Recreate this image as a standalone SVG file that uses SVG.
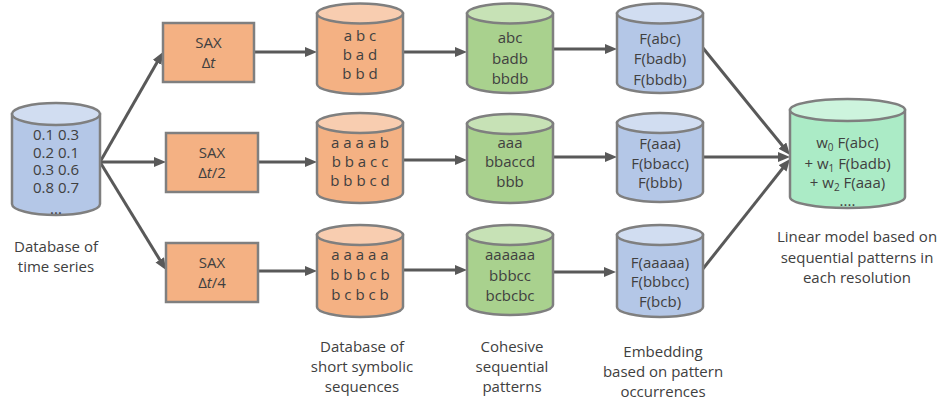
<svg xmlns="http://www.w3.org/2000/svg" width="946" height="403" viewBox="0 0 946 403">
  <style>
    text { font-family: "Open Sans", "Noto Sans", "DejaVu Sans", sans-serif; font-size: 15px; fill: #404040; text-anchor: middle; }
    .edge { stroke: #595959; stroke-width: 3; fill: none; marker-end: url(#arrow); }
    .box { fill: #f4b183; stroke: #7f7f7f; stroke-width: 2.5; }
    .cyl { stroke: #7f7f7f; stroke-width: 2.5; }
    .orange .body { fill: #f4b183; } .orange .lid { fill: #f8cdb0; }
    .green .body { fill: #a9d18e; } .green .lid { fill: #c7e2b6; }
    .blue .body { fill: #b4c7e7; } .blue .lid { fill: #d1ddf1; }
    .mint .body { fill: #abebc6; } .mint .lid { fill: #cdf4dd; }
    .sub { font-size: 10px; }
  </style>
  <defs>
    <marker id="arrow" markerUnits="userSpaceOnUse" markerWidth="13" markerHeight="11" refX="6" refY="5" orient="auto">
      <path d="M0,0 L12,5 L0,10 Z" fill="#595959"/>
    </marker>
  </defs>

  <!-- connectors -->
  <g id="connectors">
    <line class="edge" x1="100" y1="162" x2="160" y2="57.2"/>
    <line class="edge" x1="100" y1="162" x2="160" y2="162"/>
    <line class="edge" x1="100" y1="162" x2="162.9" y2="264.9"/>
    <line class="edge" x1="254" y1="52" x2="311" y2="52"/>
    <line class="edge" x1="258" y1="162" x2="311" y2="162"/>
    <line class="edge" x1="258" y1="271" x2="311" y2="271"/>
    <line class="edge" x1="403" y1="52" x2="461" y2="52"/>
    <line class="edge" x1="403" y1="160" x2="461" y2="160"/>
    <line class="edge" x1="403" y1="270" x2="461" y2="270"/>
    <line class="edge" x1="553" y1="49" x2="611" y2="49"/>
    <line class="edge" x1="553" y1="157" x2="611" y2="157"/>
    <line class="edge" x1="553" y1="272" x2="610" y2="272"/>
    <line class="edge" x1="703" y1="48" x2="786.2" y2="150.3"/>
    <line class="edge" x1="704" y1="157" x2="784" y2="157"/>
    <line class="edge" x1="702" y1="270" x2="786.3" y2="163.7"/>
  </g>

  <!-- source database -->
  <g id="timeseries-db" class="blue">
    <path class="cyl body" d="M12,114 V204 A44,11 0 0 0 100,204 V114 Z"/>
    <ellipse class="cyl lid" cx="56" cy="114" rx="44" ry="11"/>
    <text x="56" y="140">0.1 0.3</text>
    <text x="56" y="158">0.2 0.1</text>
    <text x="56" y="175">0.3 0.6</text>
    <text x="56" y="193">0.8 0.7</text>
    <text x="56" y="214">...</text>
    <text x="56" y="252">Database of</text>
    <text x="56" y="272">time series</text>
  </g>

  <!-- SAX transforms -->
  <g id="sax-1">
    <rect class="box" x="163" y="23" width="91" height="59"/>
    <text x="208.5" y="48">SAX</text>
    <text x="208.5" y="68">Δ<tspan font-style="italic">t</tspan></text>
  </g>
  <g id="sax-2">
    <rect class="box" x="166" y="133" width="92" height="59"/>
    <text x="212" y="158">SAX</text>
    <text x="212" y="178">Δ<tspan font-style="italic">t</tspan>/2</text>
  </g>
  <g id="sax-4">
    <rect class="box" x="166" y="243" width="92" height="59"/>
    <text x="212" y="268">SAX</text>
    <text x="212" y="288">Δ<tspan font-style="italic">t</tspan>/4</text>
  </g>

  <!-- symbolic sequence databases -->
  <g id="symbolic-1" class="orange">
    <path class="cyl body" d="M317,13.5 V84 A43,10 0 0 0 403,84 V13.5 Z"/>
    <ellipse class="cyl lid" cx="360" cy="13.5" rx="43" ry="10"/>
    <text x="360" y="41">a b c</text>
    <text x="360" y="60">b a d</text>
    <text x="360" y="79">b b d</text>
  </g>
  <g id="symbolic-2" class="orange">
    <path class="cyl body" d="M317,123 V193 A43,10 0 0 0 403,193 V123 Z"/>
    <ellipse class="cyl lid" cx="360" cy="123" rx="43" ry="10"/>
    <text x="360" y="148">a a a a b</text>
    <text x="360" y="167">b b a c c</text>
    <text x="360" y="186">b b b c d</text>
  </g>
  <g id="symbolic-4" class="orange">
    <path class="cyl body" d="M317,235 V307 A43,10 0 0 0 403,307 V235 Z"/>
    <ellipse class="cyl lid" cx="360" cy="235" rx="43" ry="10"/>
    <text x="360" y="260">a a a a a</text>
    <text x="360" y="280">b b b c b</text>
    <text x="360" y="300">b c b c b</text>
  </g>

  <!-- cohesive patterns -->
  <g id="patterns-1" class="green">
    <path class="cyl body" d="M467,13.5 V83 A43,10 0 0 0 553,83 V13.5 Z"/>
    <ellipse class="cyl lid" cx="510" cy="13.5" rx="43" ry="10"/>
    <text x="510" y="43">abc</text>
    <text x="510" y="64">badb</text>
    <text x="510" y="84">bbdb</text>
  </g>
  <g id="patterns-2" class="green">
    <path class="cyl body" d="M467,124 V193 A43,10 0 0 0 553,193 V124 Z"/>
    <ellipse class="cyl lid" cx="510" cy="124" rx="43" ry="10"/>
    <text x="510" y="148">aaa</text>
    <text x="510" y="167">bbaccd</text>
    <text x="510" y="187">bbb</text>
  </g>
  <g id="patterns-4" class="green">
    <path class="cyl body" d="M467,235 V305 A43,10 0 0 0 553,305 V235 Z"/>
    <ellipse class="cyl lid" cx="510" cy="235" rx="43" ry="10"/>
    <text x="510" y="260">aaaaaa</text>
    <text x="510" y="281">bbbcc</text>
    <text x="510" y="301">bcbcbc</text>
  </g>

  <!-- embeddings -->
  <g id="embedding-1" class="blue">
    <path class="cyl body" d="M617,13.5 V83 A43,10 0 0 0 703,83 V13.5 Z"/>
    <ellipse class="cyl lid" cx="660" cy="13.5" rx="43" ry="10"/>
    <text x="660" y="44">F(abc)</text>
    <text x="660" y="64">F(badb)</text>
    <text x="660" y="85">F(bbdb)</text>
  </g>
  <g id="embedding-2" class="blue">
    <path class="cyl body" d="M617,123 V192 A43,10 0 0 0 703,192 V123 Z"/>
    <ellipse class="cyl lid" cx="660" cy="123" rx="43" ry="10"/>
    <text x="660" y="149">F(aaa)</text>
    <text x="660" y="169">F(bbacc)</text>
    <text x="660" y="188">F(bbb)</text>
  </g>
  <g id="embedding-4" class="blue">
    <path class="cyl body" d="M617,235 V307 A43,10 0 0 0 703,307 V235 Z"/>
    <ellipse class="cyl lid" cx="660" cy="235" rx="43" ry="10"/>
    <text x="660" y="268">F(aaaaa)</text>
    <text x="660" y="287">F(bbbcc)</text>
    <text x="660" y="307">F(bcb)</text>
  </g>

  <!-- linear model -->
  <g id="linear-model" class="mint">
    <path class="cyl body" d="M790,110 V197 A57.5,11 0 0 0 905,197 V110 Z"/>
    <ellipse class="cyl lid" cx="847.5" cy="110" rx="57.5" ry="11"/>
    <text x="847.5" y="148">w<tspan class="sub" dy="3">0</tspan><tspan dy="-3"> F(abc)</tspan></text>
    <text x="847.5" y="169">+ w<tspan class="sub" dy="3">1</tspan><tspan dy="-3"> F(badb)</tspan></text>
    <text x="847.5" y="188">+ w<tspan class="sub" dy="3">2</tspan><tspan dy="-3"> F(aaa)</tspan></text>
    <text x="847.5" y="206">....</text>
    <text x="857" y="242">Linear model based on</text>
    <text x="857" y="263">sequential patterns in</text>
    <text x="857" y="283">each resolution</text>
  </g>

  <!-- column captions -->
  <g id="caption-symbolic">
    <text x="362" y="352">Database of</text>
    <text x="362" y="372">short symbolic</text>
    <text x="362" y="392">sequences</text>
  </g>
  <g id="caption-patterns">
    <text x="512" y="352">Cohesive</text>
    <text x="512" y="372">sequential</text>
    <text x="512" y="392">patterns</text>
  </g>
  <g id="caption-embedding">
    <text x="663" y="357">Embedding</text>
    <text x="663" y="377">based on pattern</text>
    <text x="663" y="397">occurrences</text>
  </g>
</svg>
